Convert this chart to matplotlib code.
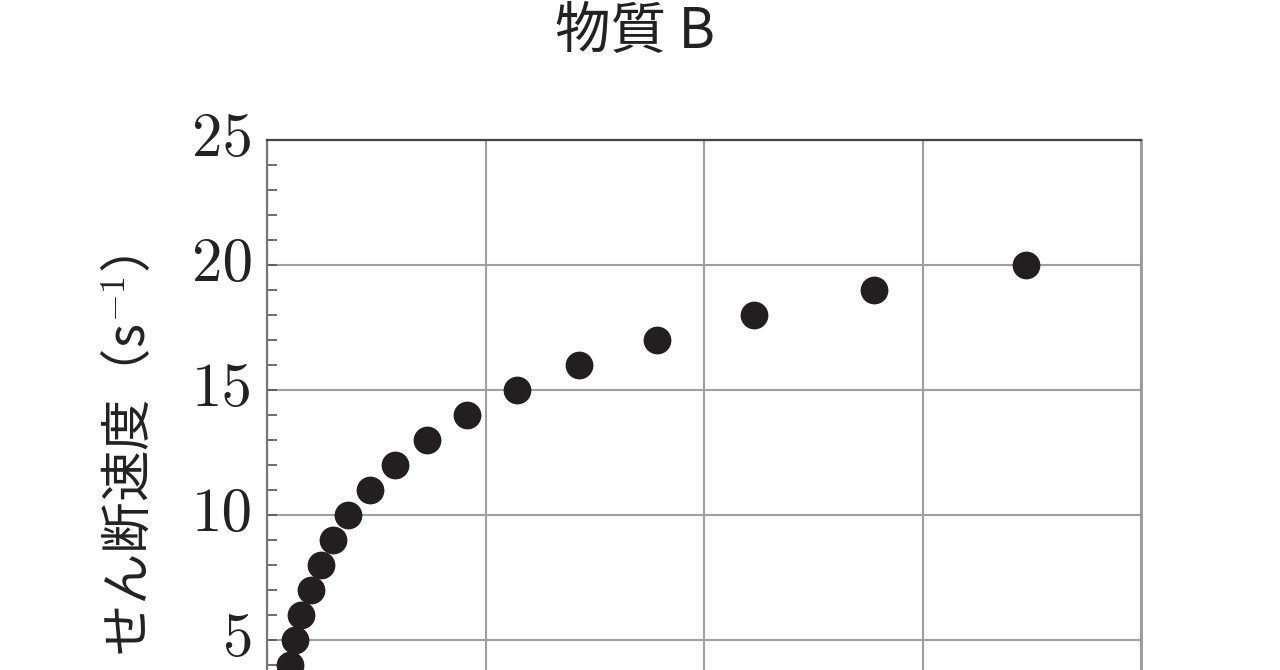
import matplotlib
matplotlib.use("Agg")
import matplotlib.pyplot as plt
from matplotlib.ticker import MultipleLocator
from matplotlib.transforms import ScaledTranslation

# (shear stress, arbitrary units) vs shear rate
stress = [0.105, 0.128, 0.156, 0.201, 0.247, 0.302, 0.371, 0.471, 0.586,
          0.732, 0.915, 1.144, 1.428, 1.785, 2.229, 2.778, 3.474]
rate = [4, 5, 6, 7, 8, 9, 10, 11, 12, 13, 14, 15, 16, 17, 18, 19, 20]
y_ticks = [5, 10, 15, 20, 25]
y_tick_labels = ["5", "10", "15", "20", "25"]

plt.rcParams["mathtext.fontset"] = "cm"
cjk = ["Noto Sans CJK JP", "DejaVu Sans"]

fig = plt.figure(figsize=(12.8, 6.7), dpi=100)
# the axes runs below the bottom of the canvas, as in the cropped original
ax = fig.add_axes([267 / 1280, -95 / 670, 874 / 1280, 625 / 670])

ax.scatter(stress, rate, s=400, color="#231f20", zorder=3, linewidths=0)

ax.set_xlim(0, 4)
ax.set_ylim(0, 25)
ax.xaxis.set_major_locator(MultipleLocator(1))
ax.set_yticks(y_ticks)
ax.set_yticklabels(y_tick_labels, fontfamily="cmr10", fontsize=44,
                   va="center", color="#222222")
# labels sit a little below their ticks in the original
shift = ScaledTranslation(0, -9 / 72, fig.dpi_scale_trans)
for lab in ax.get_yticklabels():
    lab.set_transform(lab.get_transform() + shift)
ax.yaxis.set_minor_locator(MultipleLocator(1))
ax.tick_params(axis="y", which="both", direction="in", length=7, width=1.2,
               color="#555555", pad=10)
ax.tick_params(axis="x", labelbottom=False, length=0)
ax.grid(True, which="major", color="#a0a0a0", linewidth=1.5)
ax.set_axisbelow(True)

ax.spines["top"].set_color("#444444")
ax.spines["top"].set_linewidth(1.6)
ax.spines["left"].set_color("#777777")
ax.spines["left"].set_linewidth(1.6)
ax.spines["right"].set_color("#9a9a9a")
ax.spines["right"].set_linewidth(2.0)
ax.spines["bottom"].set_visible(False)

fig.text(130 / 1280, 1 - 455 / 670, "せん断速度（s$^{-1}$）", rotation=90,
         ha="center", va="center", fontsize=37, family=cjk, color="#222222")
fig.text(635 / 1280, 1 - 32 / 670, "物質 B", ha="center", va="center",
         fontsize=40, family=cjk, color="#222222")

fig.savefig("out.png", dpi=100)
